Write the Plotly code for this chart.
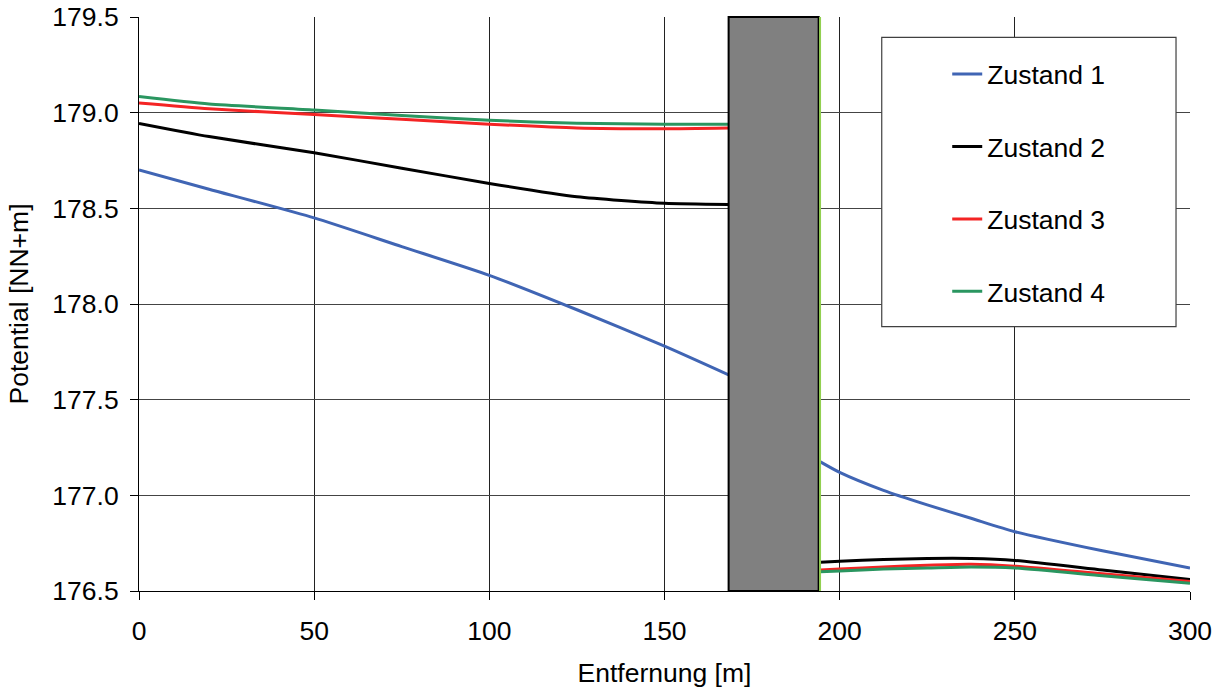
import plotly.graph_objects as go

# Distance along the section [m] and potentials [NN+m] for each state,
# left and right of the structure
x_left = [0, 20, 50, 75, 100, 125, 150, 168.3]
x_right = [194.5, 200, 212.5, 225, 237.5, 250, 275, 300]

z1_left = [178.70, 178.60, 178.45, 178.30, 178.15, 177.97, 177.78, 177.63]
z1_right = [177.175, 177.12, 177.026, 176.95, 176.88, 176.81, 176.71, 176.62]

z2_left = [178.944, 178.875, 178.79, 178.71, 178.63, 178.56, 178.526, 178.52]
z2_right = [176.65, 176.655, 176.665, 176.67, 176.67, 176.66, 176.61, 176.56]

z3_left = [179.05, 179.02, 178.99, 178.965, 178.94, 178.92, 178.916, 178.92]
z3_right = [176.61, 176.615, 176.625, 176.635, 176.64, 176.63, 176.59, 176.55]

z4_left = [179.084, 179.045, 179.014, 178.985, 178.96, 178.945, 178.94, 178.94]
z4_right = [176.60, 176.605, 176.615, 176.62, 176.625, 176.62, 176.58, 176.54]

series_names = ["Zustand 1", "Zustand 2", "Zustand 3", "Zustand 4"]
series_colors = ["#4065B4", "#000000", "#F42424", "#2A9660"]

# Structure (wall) extent along the section
wall_start = 168.3
wall_end = 194.0
wall_edge = 194.4

x_ticks = [0, 50, 100, 150, 200, 250, 300]
y_ticks = [176.5, 177.0, 177.5, 178.0, 178.5, 179.0, 179.5]

FONT = "Liberation Sans, Arial, sans-serif"
FS = 26.5

fig = go.Figure()

pairs = [(z1_left, z1_right), (z2_left, z2_right),
         (z3_left, z3_right), (z4_left, z4_right)]
for name, color, (yl, yr) in zip(series_names, series_colors, pairs):
    fig.add_trace(go.Scatter(
        x=x_left + [None] + x_right,
        y=yl + [None] + yr,
        mode="lines",
        name=name,
        legendgroup=name,
        line=dict(color=color, width=3, shape="spline", smoothing=0.6),
        connectgaps=False,
    ))

# Wall body
fig.add_shape(type="rect", xref="x", yref="y domain",
              x0=wall_start, x1=wall_end, y0=0, y1=1,
              fillcolor="#808080", line=dict(color="#000000", width=2),
              layer="above")
# Wall face on the downstream side
fig.add_shape(type="line", xref="x", yref="y domain",
              x0=wall_edge, x1=wall_edge, y0=0, y1=1,
              line=dict(color="#92D050", width=2), layer="above")

# Legend frame
fig.add_shape(type="rect", xref="paper", yref="paper",
              x0=0.7067, x1=0.9867, y0=0.4605, y1=0.9646,
              fillcolor="white", line=dict(color="#404040", width=1.2),
              layer="above")

fig.update_layout(
    width=1227, height=695,
    margin=dict(l=139, r=37, t=17, b=104, autoexpand=False),
    paper_bgcolor="white",
    plot_bgcolor="white",
    font=dict(family=FONT, size=FS, color="black"),
    showlegend=True,
    legend=dict(
        x=0.769, y=0.942, xanchor="left", yanchor="top",
        bgcolor="rgba(0,0,0,0)", borderwidth=0,
        font=dict(family=FONT, size=FS, color="black"),
        tracegroupgap=35, itemwidth=30,
    ),
    xaxis=dict(
        range=[0, 300], tickvals=x_ticks, ticktext=[str(v) for v in x_ticks],
        showgrid=True, gridcolor="#222222", gridwidth=1,
        showline=True, linecolor="black", linewidth=1,
        ticks="outside", ticklen=8, tickcolor="black",
        tickfont=dict(size=FS), zeroline=False, automargin=False,
        ticklabelstandoff=8,
        title=dict(text="Entfernung [m]", font=dict(size=FS), standoff=18),
    ),
    yaxis=dict(
        range=[176.5, 179.5], tickvals=y_ticks,
        ticktext=[f"{v:.1f}" for v in y_ticks],
        showgrid=True, gridcolor="#444444", gridwidth=1,
        showline=True, linecolor="black", linewidth=1,
        ticks="outside", ticklen=8, tickcolor="black",
        tickfont=dict(size=FS), zeroline=False, automargin=False,
        ticklabelstandoff=6,
        title=dict(text="Potential [NN+m]", font=dict(size=FS), standoff=16),
    ),
)

fig.write_html("out.html")
